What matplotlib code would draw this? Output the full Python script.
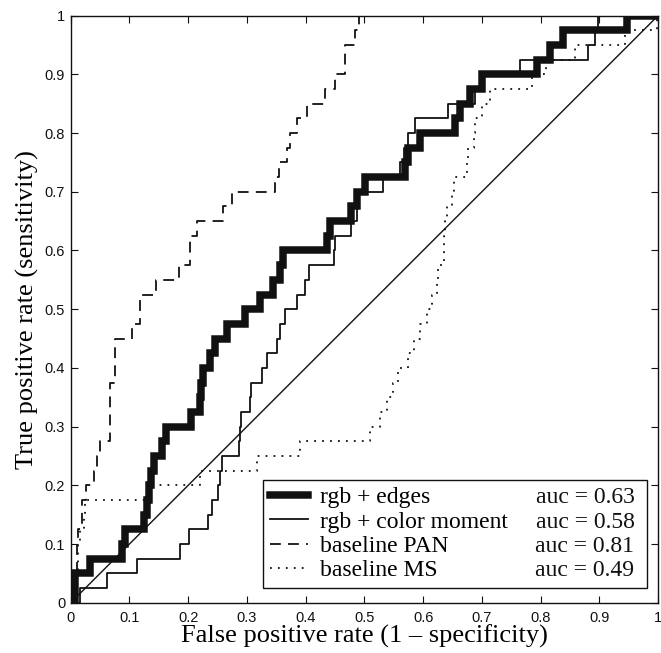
import matplotlib
matplotlib.use("Agg")
import matplotlib.pyplot as plt

# ROC operating points (fpr, tpr); each point starts a new horizontal run
rgb_edges_fpr = [0, 0.008, 0.033, 0.088, 0.093, 0.124, 0.13, 0.134, 0.137, 0.141,
                 0.155, 0.163, 0.205, 0.22, 0.222, 0.226, 0.237, 0.246, 0.266, 0.297,
                 0.322, 0.345, 0.356, 0.362, 0.436, 0.442, 0.478, 0.487, 0.501, 0.569,
                 0.575, 0.594, 0.654, 0.662, 0.68, 0.70, 0.794, 0.816, 0.839, 0.947, 1.0]
rgb_edges_tpr = [0, 0.05, 0.075, 0.1, 0.125, 0.15, 0.175, 0.2, 0.225, 0.25,
                 0.275, 0.3, 0.325, 0.35, 0.375, 0.4, 0.425, 0.45, 0.475, 0.5,
                 0.525, 0.55, 0.575, 0.6, 0.625, 0.65, 0.675, 0.7, 0.725, 0.75,
                 0.775, 0.8, 0.825, 0.85, 0.875, 0.9, 0.925, 0.95, 0.975, 1.0, 1.0]

rgb_cm_fpr = [0, 0.015, 0.061, 0.112, 0.186, 0.2015, 0.234, 0.24, 0.251, 0.255,
              0.257, 0.286, 0.288, 0.29, 0.305, 0.307, 0.325, 0.334, 0.351, 0.356,
              0.365, 0.385, 0.399, 0.405, 0.448, 0.45, 0.478, 0.487, 0.489, 0.532,
              0.561, 0.568, 0.575, 0.586, 0.643, 0.688, 0.70, 0.765, 0.881, 0.892,
              0.898, 1.0]
rgb_cm_tpr = [0, 0.025, 0.05, 0.075, 0.1, 0.125, 0.15, 0.175, 0.2, 0.225,
              0.25, 0.275, 0.3, 0.325, 0.35, 0.375, 0.4, 0.425, 0.45, 0.475,
              0.5, 0.525, 0.55, 0.575, 0.6, 0.625, 0.65, 0.675, 0.7, 0.725,
              0.75, 0.775, 0.8, 0.825, 0.85, 0.875, 0.9, 0.925, 0.95, 0.975,
              1.0, 1.0]

pan_fpr = [0, 0.005, 0.01, 0.013, 0.02, 0.026, 0.04, 0.045, 0.05, 0.067,
           0.075, 0.104, 0.118, 0.145, 0.184, 0.203, 0.215, 0.26, 0.274, 0.348,
           0.355, 0.368, 0.374, 0.385, 0.402, 0.433, 0.45, 0.467, 0.484, 0.49, 1.0]
pan_tpr = [0, 0.05, 0.1, 0.125, 0.175, 0.2, 0.225, 0.25, 0.275, 0.375,
           0.45, 0.475, 0.525, 0.55, 0.575, 0.625, 0.65, 0.675, 0.7, 0.725,
           0.75, 0.775, 0.8, 0.825, 0.85, 0.875, 0.9, 0.95, 0.975, 1.0, 1.0]

ms_fpr = [0, 0.005, 0.01, 0.013, 0.016, 0.022, 0.025, 0.13, 0.22, 0.317,
          0.39, 0.51, 0.527, 0.538, 0.549, 0.558, 0.575, 0.584, 0.595, 0.606,
          0.615, 0.623, 0.626, 0.635, 0.638, 0.64, 0.649, 0.652, 0.674, 0.677,
          0.686, 0.689, 0.70, 0.714, 0.785, 0.81, 0.859, 0.944, 0.998, 1.0]
ms_tpr = [0, 0.025, 0.05, 0.1, 0.125, 0.15, 0.175, 0.2, 0.225, 0.25,
          0.275, 0.3, 0.325, 0.35, 0.375, 0.4, 0.425, 0.45, 0.475, 0.5,
          0.525, 0.55, 0.575, 0.625, 0.65, 0.675, 0.7, 0.725, 0.75, 0.775,
          0.8, 0.825, 0.85, 0.875, 0.9, 0.925, 0.95, 0.975, 1.0, 1.0]

names = ["rgb + edges", "rgb + color moment", "baseline PAN", "baseline MS"]
aucs = [0.63, 0.58, 0.81, 0.49]

ticks = [0, 0.1, 0.2, 0.3, 0.4, 0.5, 0.6, 0.7, 0.8, 0.9, 1.0]
tick_labels = ["0", "0.1", "0.2", "0.3", "0.4", "0.5", "0.6", "0.7", "0.8", "0.9", "1"]

serif = "Liberation Serif"
sans = "Liberation Sans"

fig = plt.figure(figsize=(6.61, 6.53), dpi=100)
ax = fig.add_axes([0.107, 0.077, 0.8885, 0.899])

ink = "#111111"
h1, = ax.plot(rgb_edges_fpr, rgb_edges_tpr, drawstyle="steps-post", color=ink, lw=5.4,
              solid_joinstyle="miter", zorder=3)
h2, = ax.plot(rgb_cm_fpr, rgb_cm_tpr, drawstyle="steps-post", color=ink, lw=1.3, zorder=4)
h3, = ax.plot(pan_fpr, pan_tpr, drawstyle="steps-post", color=ink, lw=1.3,
              dashes=(6, 4), zorder=2)
h4, = ax.plot(ms_fpr, ms_tpr, drawstyle="steps-post", color=ink, lw=1.3,
              dashes=(1, 3.4), zorder=2)
# chance diagonal
ax.plot([0, 1], [0, 1], color=ink, lw=1.0, zorder=2)

ax.set_xlim(0, 1)
ax.set_ylim(0, 1)
ax.set_xticks(ticks)
ax.set_yticks(ticks)
ax.set_xticklabels(tick_labels, fontfamily=sans, fontsize=10.5)
ax.set_yticklabels(tick_labels, fontfamily=sans, fontsize=10.5)
ax.tick_params(direction="in", top=True, right=True, length=5, width=0.8,
               colors=ink)
ax.tick_params(axis="x", pad=6)
ax.tick_params(axis="y", pad=4)
for sp in ax.spines.values():
    sp.set_linewidth(1.0)
    sp.set_color(ink)

ax.set_xlabel("False positive rate (1 \u2013 specificity)", fontfamily=serif,
              fontsize=19, labelpad=0)
ax.set_ylabel("True positive rate (sensitivity)", fontfamily=serif,
              fontsize=19, labelpad=4)

leg = ax.legend([h1, h2, h3, h4], names, loc="lower left",
                bbox_to_anchor=(0.328, 0.0245, 0.654, 0.185), mode="expand",
                borderaxespad=0, fancybox=False, framealpha=1, edgecolor=ink,
                handlelength=1.6, handletextpad=0.5, labelspacing=0.12,
                borderpad=0.3, prop={"family": serif, "size": 17})
leg.get_frame().set_linewidth(1.0)

# auc values right-aligned inside the legend box, on each entry's baseline
fig.canvas.draw()
frame = leg.get_frame().get_window_extent()
for txt, auc in zip(leg.get_texts(), aucs):
    bx, by = txt.get_transform().transform((0, 0))
    xa, ya = ax.transAxes.inverted().transform((frame.x1 - 13, by))
    ax.text(xa, ya, f"auc = {auc:.2f}", transform=ax.transAxes, ha="right",
            va="baseline", fontfamily=serif, fontsize=17, color=ink, zorder=10)

fig.savefig("out.png", dpi=100)
